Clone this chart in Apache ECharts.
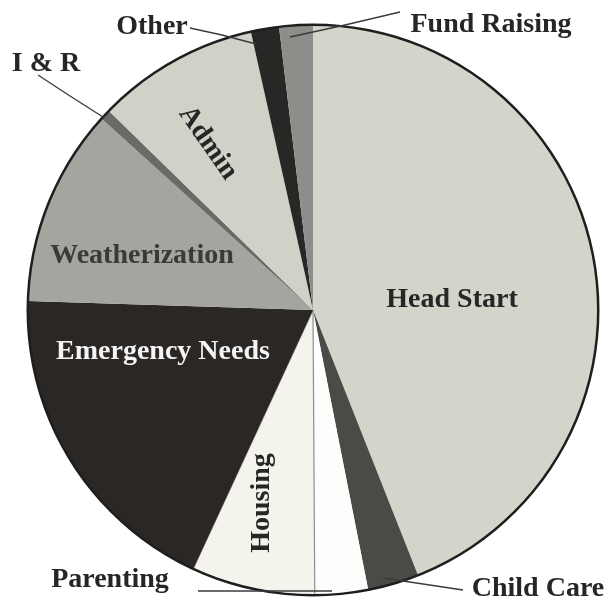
<!DOCTYPE html>
<html>
<head>
<meta charset="utf-8">
<script src="https://cdn.jsdelivr.net/npm/echarts@6/dist/echarts.min.js"></script>
<style>
html,body{margin:0;padding:0;background:#fff;}
#chart{width:605px;height:599px;}
</style>
</head>
<body>
<div id="chart"></div>
<script>
// ---- data ----
const categories = ['Head Start','Child Care','Parenting','Housing','Emergency Needs','Weatherization','I & R','Admin','Other','Fund Raising'];
const shares = [44.0, 2.9, 3.0, 7.0, 18.6, 11.2, 0.6, 9.2, 1.6, 1.9];

// ---- styling ----
const sliceColors = ['#d4d5ca','#4c4a47','#fdfdfb','#f4f4ec','#2a2725','#a5a59f','#6a6a66','#d1d2c7','#292725','#8d8d89'];
const labelColors = ['#262626','#262626','#262626','#262626','#f4f4f4','#3a3a38','#262626','#262626','#262626','#262626'];
const insideSet = {'Head Start':1,'Housing':1,'Emergency Needs':1,'Weatherization':1,'Admin':1};
const rotations = {'Admin':-55,'Housing':90};
// label anchor positions and leader lines (layout only)
const labelPos = {
  'Head Start':[452,300],
  'Weatherization':[142,256],
  'Emergency Needs':[163,352],
  'Admin':[208,143],
  'Housing':[262,503],
  'Other':[152,27],
  'Fund Raising':[491,25],
  'I & R':[46,64],
  'Parenting':[110,580],
  'Child Care':[538,589]
};
const leaderLines = {
  'Other':[[190,28],[222,35],[256,44]],
  'Fund Raising':[[400,12],[345,25],[290,37]],
  'I & R':[[38,75],[70,96],[103,117]],
  'Child Care':[[463,590],[423,584],[383,578]],
  'Parenting':[[198,591],[265,591],[332,591]]
};

const chart = echarts.init(document.getElementById('chart'), null, {renderer:'canvas'});
const font = '"Liberation Serif","Times New Roman",serif';
const total = shares.reduce((a,b)=>a+b,0);
const CENTER = [313, 310];
const R = 285;

const sliceData = categories.map((name,i)=>{
  const item = {name: name, value: shares[i], itemStyle: {color: sliceColors[i]}};
  if (name === 'Housing') {
    item.itemStyle.borderColor = '#8e8e8e';
    item.itemStyle.borderWidth = 1.2;
  }
  return item;
});

const labelData = categories.map((name,i)=>{
  const inside = !!insideSet[name];
  return {
    name: name,
    value: shares[i],
    itemStyle: {color: 'rgba(0,0,0,0)'},
    label: {
      show: true,
      position: inside ? 'inside' : 'outside',
      color: labelColors[i],
      rotate: rotations[name] || 0
    },
    labelLine: {show: !inside, lineStyle:{color:'#3a3a3a', width:1.3}}
  };
});

chart.setOption({
  backgroundColor: '#ffffff',
  animation: false,
  series: [
    {
      type: 'pie',
      z: 2,
      center: CENTER,
      radius: [0, R],
      startAngle: 90,
      clockwise: true,
      silent: true,
      label: {show: false},
      labelLine: {show: false},
      data: sliceData
    },
    {
      type: 'pie',
      z: 3,
      center: CENTER,
      radius: [R - 1, R + 1.5],
      silent: true,
      label: {show: false},
      labelLine: {show: false},
      itemStyle: {color: '#1e1e1e'},
      data: [{name: 'outline', value: total}]
    },
    {
      type: 'pie',
      z: 5,
      center: CENTER,
      radius: [0, R],
      startAngle: 90,
      clockwise: true,
      avoidLabelOverlap: false,
      silent: true,
      label: {
        formatter: '{b}',
        fontFamily: font,
        fontWeight: 'bold',
        fontSize: 28
      },
      labelLayout: function (params) {
        const name = categories[params.dataIndex];
        const p = labelPos[name];
        const res = {x: p[0], y: p[1], align: 'center', verticalAlign: 'middle'};
        if (leaderLines[name]) res.labelLinePoints = leaderLines[name];
        return res;
      },
      data: labelData
    }
  ]
});
</script>
</body>
</html>
